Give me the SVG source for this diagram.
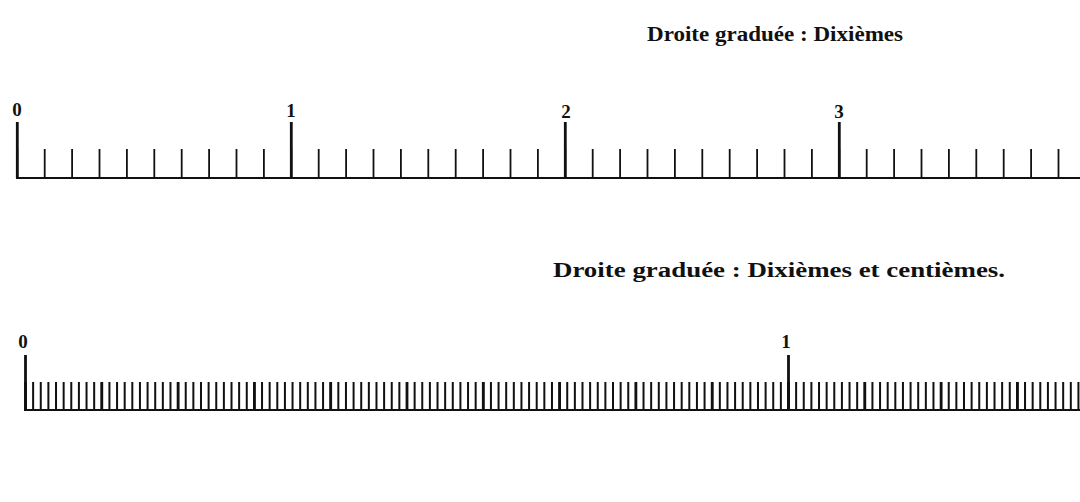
<svg xmlns="http://www.w3.org/2000/svg" width="1080" height="502" viewBox="0 0 1080 502">
<style>
.t{font-family:"Liberation Serif","Times New Roman",serif;font-weight:bold;fill:#111}
.title{font-size:20px}
.num{font-size:19px;text-anchor:middle}
.ln{stroke:#111;fill:none}
</style>
<rect width="1080" height="502" fill="#fff"/>
<g id="line-dixiemes">
<text class="t title" x="647" y="41" textLength="256" lengthAdjust="spacingAndGlyphs">Droite graduée : Dixièmes</text>
<line class="ln" x1="16" y1="178" x2="1080" y2="178" stroke-width="2"/>
<line class="ln" x1="16.4" y1="163" x2="1080" y2="163" stroke-width="28" stroke-dasharray="1.8 25.6"/>
<path class="ln" stroke-width="2.8" d="M17.3 122V178M291.3 122V178M565.3 122V178M839.3 122V178"/>
<text class="t num" x="17" y="116">0</text>
<text class="t num" x="291" y="117">1</text>
<text class="t num" x="566" y="118">2</text>
<text class="t num" x="839" y="118">3</text>
</g>
<g id="line-centiemes">
<text class="t title" x="553" y="277" font-size="21" textLength="452" lengthAdjust="spacingAndGlyphs">Droite graduée : Dixièmes et centièmes.</text>
<line class="ln" x1="24" y1="410" x2="1080" y2="410" stroke-width="2"/>
<line class="ln" x1="24.5" y1="396" x2="1080" y2="396" stroke-width="28" stroke-dasharray="2 5.63" stroke="#222"/>
<line class="ln" x1="24.1" y1="396" x2="1080" y2="396" stroke-width="28" stroke-dasharray="2.8 73.5"/>
<path class="ln" stroke-width="2.8" d="M25.5 355V410M788.5 355V410"/>
<text class="t num" x="23" y="348">0</text>
<text class="t num" x="786" y="348">1</text>
</g>
</svg>
